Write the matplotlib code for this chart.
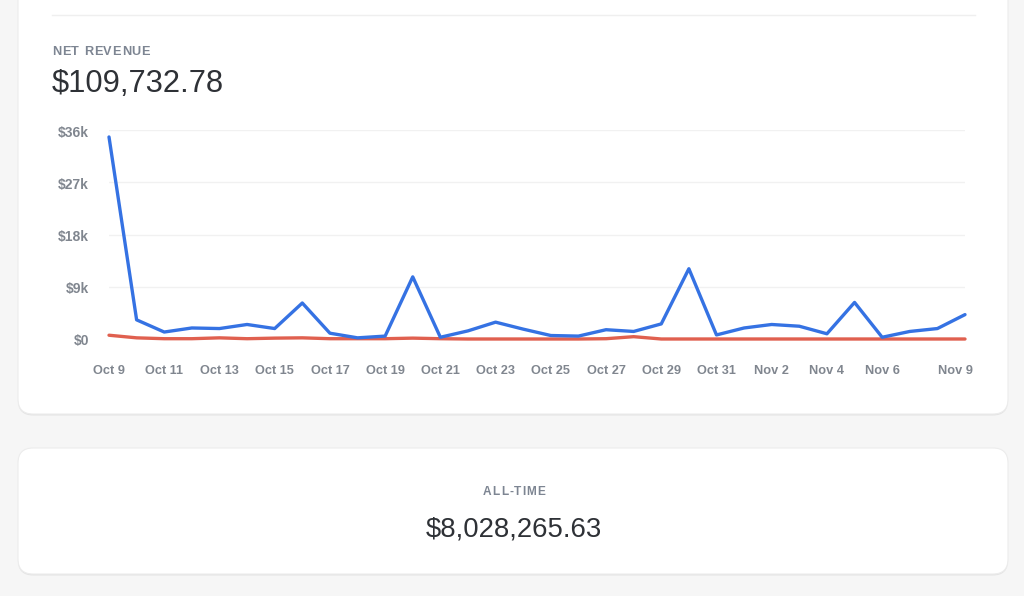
import matplotlib
matplotlib.use("Agg")
import matplotlib.pyplot as plt
from matplotlib.patches import FancyBboxPatch
import matplotlib.transforms as mtransforms

# ---- data ----
dates = ["Oct 9", "Oct 10", "Oct 11", "Oct 12", "Oct 13", "Oct 14", "Oct 15", "Oct 16",
         "Oct 17", "Oct 18", "Oct 19", "Oct 20", "Oct 21", "Oct 22", "Oct 23", "Oct 24",
         "Oct 25", "Oct 26", "Oct 27", "Oct 28", "Oct 29", "Oct 30", "Oct 31", "Nov 1",
         "Nov 2", "Nov 3", "Nov 4", "Nov 5", "Nov 6", "Nov 7", "Nov 8", "Nov 9"]
revenue = [34800, 3300, 1200, 1900, 1800, 2500, 1800, 6200, 1000, 200, 500, 10700,
           300, 1400, 2900, 1700, 600, 500, 1600, 1300, 2600, 12100, 700, 1900,
           2500, 2200, 900, 6300, 300, 1300, 1800, 4200]
refunds = [650, 200, 50, 50, 200, 50, 150, 200, 50, 50, 50, 150,
           50, 0, 0, 0, 0, 0, 50, 400, 0, 0, 0, 0,
           0, 0, 0, 0, 0, 0, 0, 0]
shown_ticks = ["Oct 9", "Oct 11", "Oct 13", "Oct 15", "Oct 17", "Oct 19", "Oct 21", "Oct 23",
               "Oct 25", "Oct 27", "Oct 29", "Oct 31", "Nov 2", "Nov 4", "Nov 6", "Nov 9"]
y_ticks = [0, 9000, 18000, 27000, 36000]
y_tick_labels = ["$0", "$9k", "$18k", "$27k", "$36k"]
title = "NET REVENUE"
total = "$109,732.78"
alltime_title = "ALL-TIME"
alltime_value = "$8,028,265.63"

W, H = 1024, 596
fig = plt.figure(figsize=(W / 100, H / 100), dpi=100)
fig.patch.set_facecolor("#f6f6f6")

bg = fig.add_axes([0, 0, 1, 1])
bg.set_xlim(0, W)
bg.set_ylim(H, 0)
bg.axis("off")
renderer = fig.canvas.get_renderer()

def card(x0, y0, x1, y1):
    sh = FancyBboxPatch((x0, y0 + 1.5), x1 - x0, y1 - y0,
                        boxstyle="round,pad=0,rounding_size=15",
                        facecolor="#e4e4e4", edgecolor="none", zorder=1)
    bg.add_patch(sh)
    c = FancyBboxPatch((x0, y0), x1 - x0, y1 - y0,
                       boxstyle="round,pad=0,rounding_size=15",
                       facecolor="white", edgecolor="#ececec", lw=0.8, zorder=2)
    bg.add_patch(c)

card(18, -40, 1008, 414)
card(18, 448, 1008, 574)

bg.plot([52, 975], [15, 15], color="#efefef", lw=1, zorder=3)

sans = ["Liberation Sans", "DejaVu Sans"]

def char_width(ch, **kw):
    t = bg.text(0, 0, ch, **kw)
    w = t.get_window_extent(renderer).width
    t.remove()
    if ch == " ":
        t = bg.text(0, 0, "a a", **kw)
        w2 = t.get_window_extent(renderer).width
        t.remove()
        t = bg.text(0, 0, "aa", **kw)
        w3 = t.get_window_extent(renderer).width
        t.remove()
        w = w2 - w3
    return w

def spaced_text(x, y, s, spacing, align="left", **kw):
    widths = [char_width(c, **kw) for c in s]
    total_w = sum(widths) + spacing * (len(s) - 1)
    cx = x - total_w / 2 if align == "center" else x
    for c, w in zip(s, widths):
        if c != " ":
            bg.text(cx, y, c, va="baseline", ha="left", zorder=4, **kw)
        cx += w + spacing

spaced_text(52, 55, title, 0.75, fontsize=9.2, color="#7d8592", family=sans,
            fontweight="bold")
bg.text(52, 92, total, fontsize=22.2, color="#2e3136", family=sans,
        va="baseline", ha="left", zorder=4)
spaced_text(514, 495, alltime_title, 1.0, align="center", fontsize=8.6,
            color="#7d8592", family=sans, fontweight="bold")
bg.text(514, 536, alltime_value, fontsize=19.8, color="#2e3136", family=sans,
        va="baseline", ha="center", zorder=4)

# ---- chart ----
ax = fig.add_axes([109 / W, (H - 339) / H, 856 / W, 209 / H])
ax.patch.set_alpha(0)
x = list(range(len(dates)))
ax.set_xlim(0, len(dates) - 1)
ax.set_ylim(0, 36000)
for s in ax.spines.values():
    s.set_visible(False)
for yv in y_ticks[1:]:
    ax.axhline(yv, color="#f1f1f1", lw=1, zorder=1)

ax.plot(x, refunds, color="#e0604f", lw=2.4, solid_capstyle="round",
        solid_joinstyle="round", clip_on=False, zorder=3)
ax.plot(x, revenue, color="#3572e3", lw=2.4, solid_capstyle="round",
        solid_joinstyle="round", clip_on=False, zorder=4)

tick_pos = [dates.index(d) for d in shown_ticks]
ax.set_xticks(tick_pos)
ax.set_xticklabels(shown_ticks)
ax.set_yticks(y_ticks)
ax.set_yticklabels(y_tick_labels)
ax.tick_params(axis="both", length=0, labelcolor="#80868f")
ax.tick_params(axis="x", pad=19, labelsize=9.2)
ax.tick_params(axis="y", pad=14.4, labelsize=10)
for lab in ax.get_xticklabels() + ax.get_yticklabels():
    lab.set_family(sans)
    lab.set_fontweight("bold")
down = mtransforms.ScaledTranslation(0, -2.5 / 100, fig.dpi_scale_trans)
for lab in ax.get_yticklabels():
    lab.set_va("center")
    lab.set_transform(lab.get_transform() + down)
last = ax.get_xticklabels()[-1]
last.set_transform(last.get_transform() + mtransforms.ScaledTranslation(-10 / 100, 0, fig.dpi_scale_trans))

fig.savefig("out.png", dpi=100, facecolor=fig.get_facecolor())
